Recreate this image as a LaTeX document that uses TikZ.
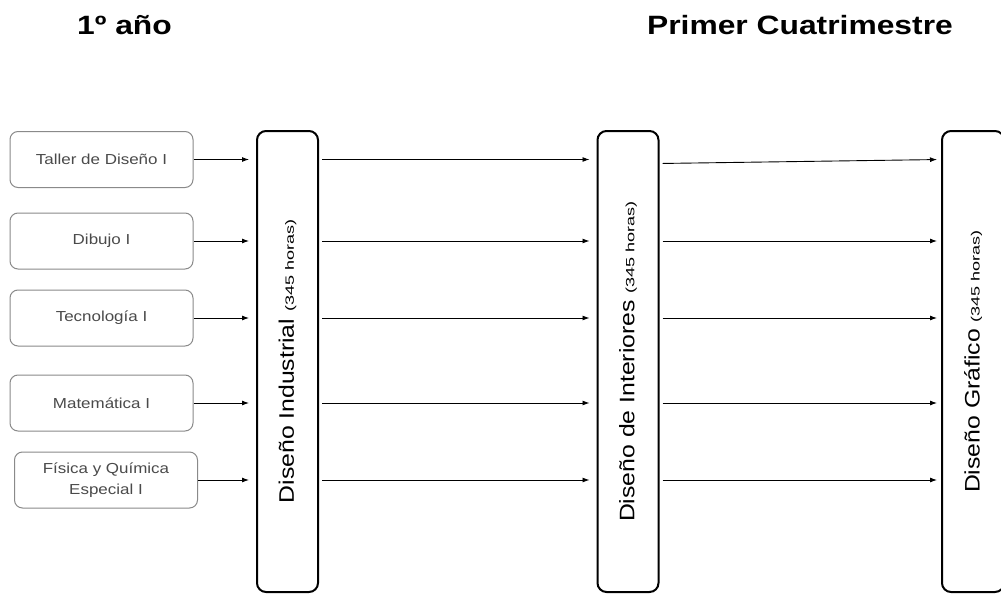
\documentclass[tikz,border=0pt]{standalone}
\usepackage{fontspec}
\setmainfont{Liberation Sans}
\usepackage{graphicx}
\usetikzlibrary{arrows.meta,calc}
\newcommand{\sx}[2]{\scalebox{#1}[1]{#2}}
\newcommand{\bigtxt}[1]{\rotatebox{90}{\fontsize{21}{25}\selectfont\sx{1.18}{#1}\hspace{7pt}\fontsize{12}{14}\selectfont\sx{1.5}{(345 horas)}}}
\definecolor{boxgray}{HTML}{8A8A8A}
\definecolor{txtgray}{HTML}{4A4A4A}
\begin{document}
\begin{tikzpicture}[x=1pt,y=-1pt,
  subj/.style={draw=boxgray, line width=1pt, rounded corners=8pt, minimum width=183pt, minimum height=56pt, inner sep=0pt, text=txtgray, font=\fontsize{14.5}{21}\selectfont, align=center},
  career/.style={draw=black, line width=2pt, rounded corners=9pt, minimum width=61pt, minimum height=461pt, inner sep=0pt},
  head/.style={anchor=base, font=\fontsize{26.5}{30}\selectfont\bfseries, inner sep=0pt},
  arr/.style={line width=0.9pt, -{Latex[length=7pt,width=5pt]}}]
\clip (0,0) rectangle (1001,594);
\useasboundingbox (0,0) rectangle (1001,594);
\fill[white] (0,0) rectangle (1001,594);

\node[head] (h1) at (124.5,35) {\sx{1.2}{1º año}};
\node[head] (h2) at (800,35) {\sx{1.2}{Primer Cuatrimestre}};

\node[subj] (s1) at (101.5,159.5) {\sx{1.17}{Taller de Diseño I}};
\node[subj] (s2) at (101.5,241) {\sx{1.17}{Dibujo I}};
\node[subj] (s3) at (101.5,318) {\sx{1.17}{Tecnología I}};
\node[subj] (s4) at (101.5,403) {\sx{1.17}{Matemática I}};
\node[subj] (s5) at (106,480) {\sx{1.17}{Física y Química}\\\sx{1.17}{Especial I}};

\node[career] (b1) at (287.5,361.5) {\bigtxt{Diseño Industrial}};
\node[career] (b2) at (628,361.5) {\bigtxt{Diseño de Interiores}};
\node[career,minimum width=62pt] (b3) at (973,361.5) {\bigtxt{Diseño Gráfico}};

\foreach \s in {s1,s2,s3,s4,s5}{
  \draw[arr, shorten >=7pt] (\s.east) -- (b1.west |- \s.east);
  \draw[arr, shorten <=3pt, shorten >=7pt] (b1.east |- \s.east) -- (b2.west |- \s.east);
}
\draw[arr, shorten <=3pt, shorten >=4pt] ($(b2.east |- s1.east)+(0,4)$) -- (b3.west |- s1.east);
\foreach \s in {s2,s3,s4,s5}{
  \draw[arr, shorten <=3pt, shorten >=4pt] (b2.east |- \s.east) -- (b3.west |- \s.east);
}
\end{tikzpicture}
\end{document}
